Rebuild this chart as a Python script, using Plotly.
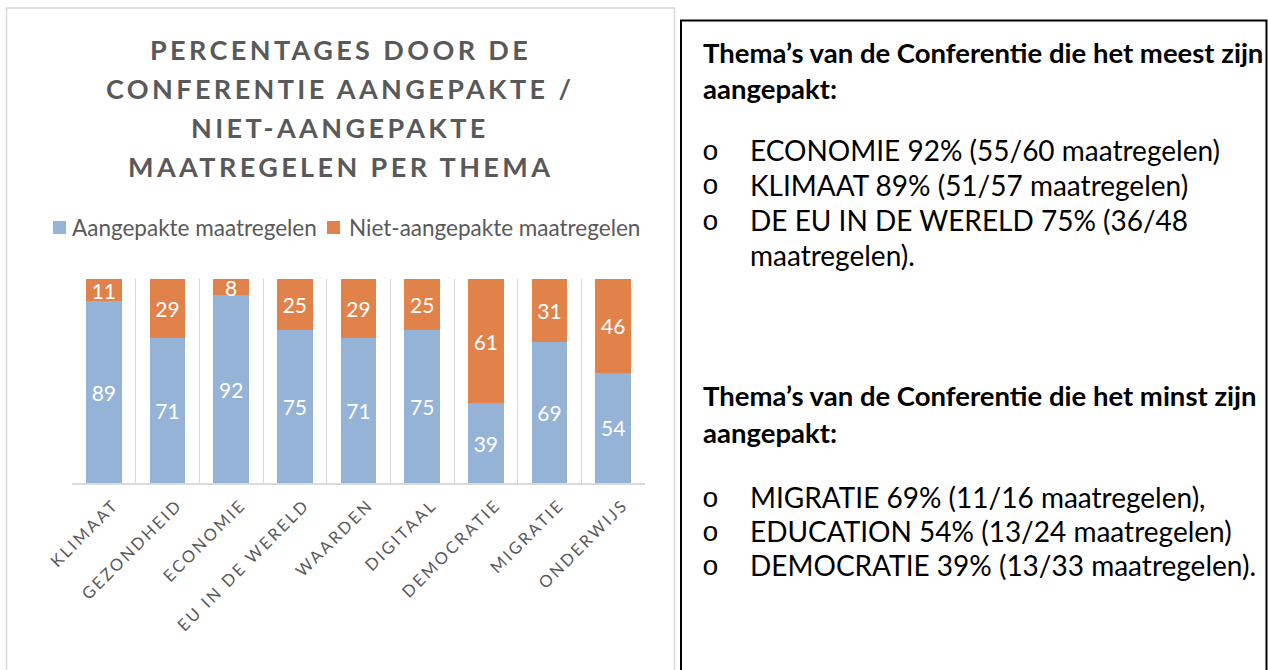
import plotly.graph_objects as go

# ---- data ----
categories = ["KLIMAAT", "GEZONDHEID", "ECONOMIE", "EU IN DE WERELD", "WAARDEN",
              "DIGITAAL", "DEMOCRATIE", "MIGRATIE", "ONDERWIJS"]
aangepakt = [89, 71, 92, 75, 71, 75, 39, 69, 54]
niet_aangepakt = [11, 29, 8, 25, 29, 25, 61, 31, 46]
series_names = ["Aangepakte maatregelen", "Niet-aangepakte maatregelen"]
title_lines = ["PERCENTAGES DOOR DE", "CONFERENTIE AANGEPAKTE /",
               "NIET-AANGEPAKTE", "MAATREGELEN PER THEMA"]
heading_most = ["Thema\u2019s van de Conferentie die het meest zijn", "aangepakt:"]
bullets_most = ["ECONOMIE 92% (55/60 maatregelen)", "KLIMAAT 89% (51/57 maatregelen)",
                "DE EU IN DE WERELD 75% (36/48", "maatregelen)."]
heading_least = ["Thema\u2019s van de Conferentie die het minst zijn", "aangepakt:"]
bullets_least = ["MIGRATIE 69% (11/16 maatregelen),", "EDUCATION 54% (13/24 maatregelen)",
                 "DEMOCRATIE 39% (13/33 maatregelen)."]

BLUE = "#95b3d7"
ORANGE = "#e0824a"
GREY_TXT = "#595959"
FONT = "Lato"
W, H = 1268, 670


def px_x(x):
    return x / W


def px_y(y):
    return 1 - y / H


fig = go.Figure()
for vals, name, col in [(aangepakt, series_names[0], BLUE), (niet_aangepakt, series_names[1], ORANGE)]:
    fig.add_trace(go.Bar(x=categories, y=vals, name=name,
                         marker=dict(color=col, line=dict(width=0)),
                         text=vals, textposition="inside", insidetextanchor="middle",
                         constraintext="none", cliponaxis=False,
                         textfont=dict(color="white", size=21, family=FONT),
                         textangle=0))

ls = lambda s, sp: f"<span style='letter-spacing:{sp}px'>{s}</span>"

fig.update_layout(
    width=W, height=H, margin=dict(l=0, r=0, t=0, b=0, autoexpand=False),
    paper_bgcolor="white", plot_bgcolor="white",
    barmode="stack", bargap=0.44, showlegend=False,
    font=dict(family=FONT, color=GREY_TXT),
    xaxis=dict(domain=[px_x(72), px_x(645)], type="category", automargin=False,
               tickson="boundaries", showgrid=True, gridcolor="#d9d9d9", gridwidth=1,
               showline=True, linecolor="#d9d9d9", linewidth=1.5, ticks="",
               tickangle=-45, tickvals=categories,
               ticktext=[ls(c, 2.5) for c in categories],
               ticklabelshift=10, ticklabelstandoff=4,
               tickfont=dict(size=16.5, color=GREY_TXT, family=FONT)),
    yaxis=dict(domain=[px_y(483), px_y(279)], range=[0, 100], visible=False,
               automargin=False),
)

# panel borders
fig.add_shape(type="rect", xref="paper", yref="paper",
              x0=px_x(6.5), x1=px_x(674.5), y0=-0.05, y1=px_y(8),
              line=dict(color="#d9d9d9", width=1.5), fillcolor="rgba(0,0,0,0)")
fig.add_shape(type="rect", xref="paper", yref="paper",
              x0=px_x(681), x1=px_x(1266.5), y0=-0.05, y1=px_y(20.5),
              line=dict(color="black", width=2), fillcolor="rgba(0,0,0,0)")

# title
for line, yy in zip(title_lines, [50, 88, 127, 166]):
    fig.add_annotation(xref="paper", yref="paper", x=px_x(340), y=px_y(yy),
                       text=f"<b>{ls(line, 3.4)}</b>", showarrow=False,
                       xanchor="center", yanchor="middle",
                       font=dict(size=27, color=GREY_TXT, family=FONT))

# legend (manual)
leg = [(53, 70, BLUE, series_names[0]), (327, 347, ORANGE, series_names[1])]
for sx, tx, col, name in leg:
    fig.add_shape(type="rect", xref="paper", yref="paper",
                  x0=px_x(sx), x1=px_x(sx + 13), y0=px_y(234), y1=px_y(221),
                  line=dict(width=0), fillcolor=col)
    fig.add_annotation(xref="paper", yref="paper", x=px_x(tx), y=px_y(228),
                       text=name, showarrow=False, xanchor="left", yanchor="middle",
                       font=dict(size=22.5, color=GREY_TXT, family=FONT))


# right text box
def add_text(s, x, y, size, bold=False, family=FONT):
    fig.add_annotation(xref="paper", yref="paper", x=px_x(x), y=px_y(y),
                       text=f"<b>{s}</b>" if bold else s, showarrow=False,
                       xanchor="left", yanchor="middle",
                       font=dict(size=size, color="black", family=family))


for s, yy in zip(heading_most, [52, 88]):
    add_text(s, 701, yy, 27.5, bold=True)
for i, (s, yy) in enumerate(zip(bullets_most, [150, 185, 220, 255])):
    if i < 3:
        add_text("o", 700, yy + 2, 28, family="Liberation Mono")
    add_text(s, 748, yy, 28)
for s, yy in zip(heading_least, [395, 432]):
    add_text(s, 701, yy, 27.5, bold=True)
for s, yy in zip(bullets_least, [497, 531, 565]):
    add_text("o", 700, yy + 2, 28, family="Liberation Mono")
    add_text(s, 748, yy, 28)

fig.write_html("out.html", config={"displayModeBar": False},
               post_script="document.body.style.margin='0';document.body.style.overflow='hidden';")
